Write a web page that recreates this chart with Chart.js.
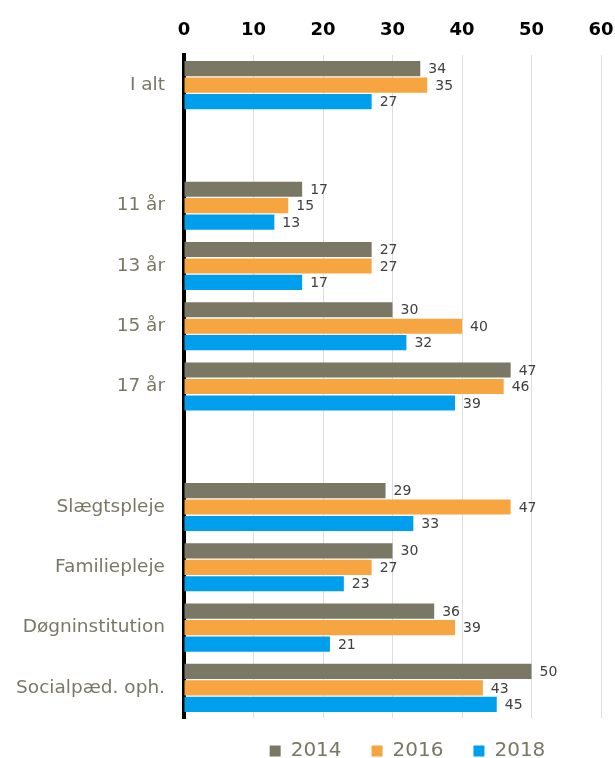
<!DOCTYPE html>
<html>
<head>
<meta charset="utf-8">
<script src="https://cdn.jsdelivr.net/npm/chart.js@4"></script>
<style>
  html, body { margin: 0; padding: 0; background: #fff; }
  #wrap { width: 615px; height: 758px; }
</style>
</head>
<body>
<div id="wrap"><canvas id="ctx"></canvas></div>
<script>
const categories = ['I alt', '', '11 år', '13 år', '15 år', '17 år', '', 'Slægtspleje', 'Familiepleje', 'Døgninstitution', 'Socialpæd. oph.'];
const years = ['2014', '2016', '2018'];
const values2014 = [34, null, 17, 27, 30, 47, null, 29, 30, 36, 50];
const values2016 = [35, null, 15, 27, 40, 46, null, 47, 27, 39, 43];
const values2018 = [27, null, 13, 17, 32, 39, null, 33, 23, 21, 45];
const xTicks = [0, 10, 20, 30, 40, 50, 60];

const colors = ['#7a7865', '#f7a541', '#009fee'];
const fontFamily = '"DejaVu Sans"';

// value labels right of each bar
const barLabels = {
    id: 'barLabels',
    afterDatasetsDraw(chart) {
        const ctx = chart.ctx;
        ctx.save();
        ctx.font = '14px ' + fontFamily;
        ctx.fillStyle = '#404040';
        ctx.textBaseline = 'middle';
        ctx.textAlign = 'left';
        chart.data.datasets.forEach((ds, i) => {
            const meta = chart.getDatasetMeta(i);
            meta.data.forEach((bar, j) => {
                if (ds.data[j] == null) return;
                ctx.fillText(ds.data[j], bar.x + 8, bar.y + 1);
            });
        });
        ctx.restore();
    }
};

// nudge the legend row a little up and right
const legendNudge = {
    id: 'legendNudge',
    afterLayout(chart) {
        const lg = chart.legend;
        if (!lg) return;
        lg.top -= 7;
        lg.bottom -= 7;
        lg.left += 15;
        lg.right += 15;
    }
};

new Chart(document.getElementById('ctx'), {
    type: 'bar',
    data: {
        labels: categories,
        datasets: [
            { label: years[0], data: values2014, backgroundColor: colors[0] },
            { label: years[1], data: values2016, backgroundColor: colors[1] },
            { label: years[2], data: values2018, backgroundColor: colors[2] }
        ]
    },
    options: {
        indexAxis: 'y',
        responsive: true,
        maintainAspectRatio: false,
        animation: false,
        categoryPercentage: 0.82,
        barPercentage: 0.92,
        layout: { padding: { left: 0, right: 14, top: 0, bottom: -20 } },
        scales: {
            x: {
                position: 'top',
                min: 0,
                max: 60,
                afterBuildTicks: (axis) => { axis.ticks = xTicks.map(v => ({ value: v })); },
                afterFit: (scale) => { scale.paddingRight = 0; scale.paddingLeft = 0; scale.height = 55; },
                grid: { color: '#dedede', lineWidth: 1, drawTicks: false },
                border: { display: false },
                ticks: {
                    color: '#000',
                    padding: 14,
                    font: { family: fontFamily, size: 18, weight: 'bold' }
                }
            },
            y: {
                afterFit: (scale) => { scale.width = 184; },
                grid: { display: false, drawTicks: false },
                border: { color: '#000', width: 4 },
                ticks: {
                    color: '#7a7865',
                    padding: 19,
                    autoSkip: false,
                    font: { family: fontFamily, size: 18.5 }
                }
            }
        },
        plugins: {
            tooltip: { enabled: false },
            legend: {
                position: 'bottom',
                fullSize: false,
                labels: {
                    boxWidth: 11,
                    boxHeight: 11,
                    padding: 30,
                    color: '#7a7865',
                    font: { family: fontFamily, size: 20 }
                }
            }
        }
    },
    plugins: [barLabels, legendNudge]
});
</script>
</body>
</html>
